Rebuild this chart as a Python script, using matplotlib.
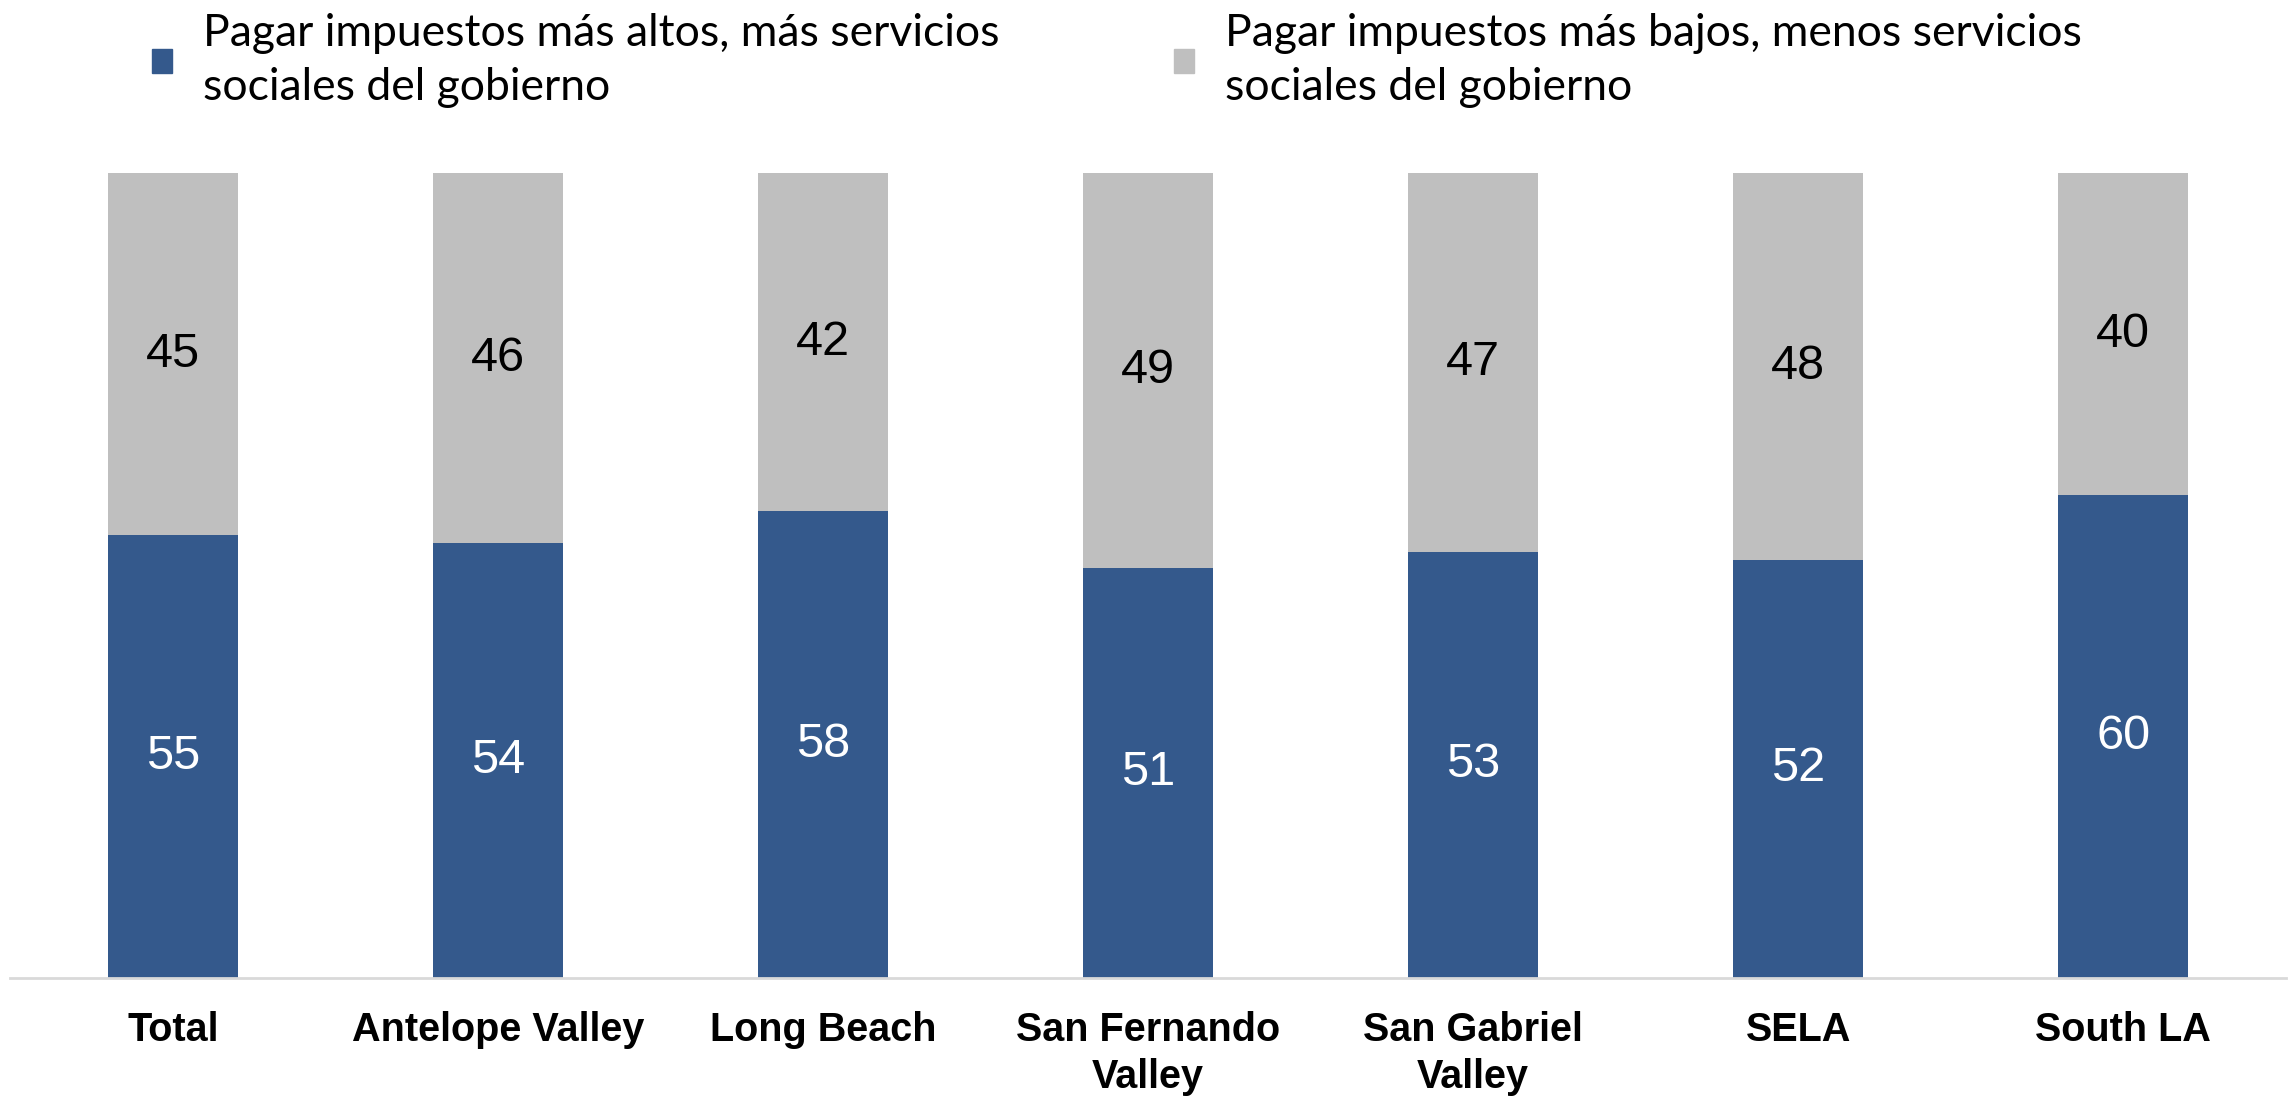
import matplotlib.pyplot as plt
from matplotlib.patches import Patch

# datos
regiones = ['Total', 'Antelope Valley', 'Long Beach', 'San Fernando\nValley',
            'San Gabriel\nValley', 'SELA', 'South LA']
mas_altos = [55, 54, 58, 51, 53, 52, 60]
mas_bajos = [45, 46, 42, 49, 47, 48, 40]
etiquetas = ['Pagar impuestos más altos, más servicios\nsociales del gobierno',
             'Pagar impuestos más bajos, menos servicios\nsociales del gobierno']
colores = ['#34598C', '#BFBFBF']

fig = plt.figure(figsize=(22.95, 10.97), dpi=100)
ax = fig.add_axes([0.0045, 0.1085, 0.9915, 0.7335])

x = range(len(regiones))
ancho = 0.4
b1 = ax.bar(x, mas_altos, width=ancho, color=colores[0])
b2 = ax.bar(x, mas_bajos, width=ancho, bottom=mas_altos, color=colores[1])

# numeros dentro de las barras
for bar, v in zip(b1, mas_altos):
    ax.text(bar.get_x() + bar.get_width() / 2, bar.get_y() + v / 2, str(v),
            ha='center', va='center', fontsize=35, color='white',
            family='Liberation Sans')
for bar, v in zip(b2, mas_bajos):
    ax.text(bar.get_x() + bar.get_width() / 2, bar.get_y() + v / 2, str(v),
            ha='center', va='center', fontsize=35, color='black',
            family='Liberation Sans')

ax.set_xlim(-0.5, 6.5)
ax.set_ylim(0, 100)
ax.set_xticks(list(x))
ax.set_xticklabels(regiones, fontsize=28.5, fontweight='bold',
                   family='Liberation Sans', linespacing=1.3)
ax.tick_params(axis='x', length=0, pad=24)
ax.set_yticks([])
for s in ['top', 'left', 'right']:
    ax.spines[s].set_visible(False)
ax.spines['bottom'].set_color('#D9D9D9')
ax.spines['bottom'].set_linewidth(2)

# leyenda (dos bloques)
posiciones = [130 / 2295, 1152 / 2295]
for lab, col, px in zip(etiquetas, colores, posiciones):
    leg = fig.legend(handles=[Patch(color=col, label=lab)], loc='upper left',
                     bbox_to_anchor=(px, 1.008), frameon=False, borderpad=0,
                     handlelength=0.45, handleheight=0.45, handletextpad=0.7,
                     prop={'family': 'Lato', 'size': 32})
    for t in leg.get_texts():
        t.set_linespacing(1.38)

fig.savefig('out.png', dpi=100)
